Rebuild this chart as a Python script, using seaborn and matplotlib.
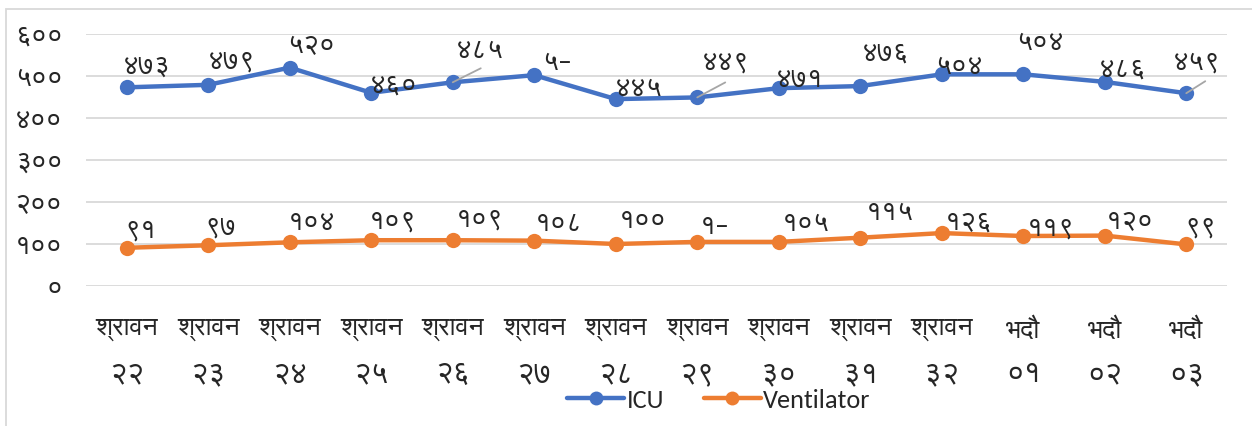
import numpy as np
import pandas as pd
import matplotlib
matplotlib.use("Agg")
import matplotlib.pyplot as plt
import seaborn as sb
from matplotlib.lines import Line2D
from matplotlib.patches import Rectangle

# dates (Nepali calendar) and daily counts
months = ['श्रावन'] * 11 + ['भदौ'] * 3
days = ['२२', '२३', '२४', '२५', '२६', '२७', '२८', '२९', '३०', '३१', '३२', '०१', '०२', '०३']
icu = [473, 479, 520, 460, 485, 502, 445, 449, 471, 476, 504, 504, 486, 459]
ventilator = [91, 97, 104, 109, 109, 108, 100, 105, 105, 115, 126, 119, 120, 99]
icu_labels = ['४७३', '४७९', '५२०', '४६०', '४८५', '५–', '४४५', '४४९', '४७१', '४७६', '५०४', '५०४', '४८६', '४५९']
vent_labels = ['९१', '९७', '१०४', '१०९', '१०९', '१०८', '१००', '१–', '१०५', '११५', '१२६', '११९', '१२०', '९९']
y_ticks = [0, 100, 200, 300, 400, 500, 600]
y_tick_labels = ['०', '१००', '२००', '३००', '४००', '५००', '६००']

BLUE = '#4472C4'
ORANGE = '#ED7D31'

sb.set_style('white')
plt.rcParams['font.family'] = ['Carlito', 'FreeSans', 'Noto Sans Devanagari', 'DejaVu Sans']

n = len(days)
df = pd.DataFrame({
    'pos': list(range(n)) * 2,
    'value': icu + ventilator,
    'series': ['ICU'] * n + ['Ventilator'] * n,
})

fig = plt.figure(figsize=(12.52, 4.26), dpi=100)
ax = fig.add_axes([86 / 1252, 1 - 286 / 426, (1227 - 86) / 1252, (286 - 34) / 426])

sb.lineplot(data=df, x='pos', y='value', hue='series', palette=[BLUE, ORANGE],
            marker='o', markersize=11, markeredgewidth=0, linewidth=3.2,
            legend=False, ax=ax)

ax.set_xlim(-0.5, n - 0.5)
ax.set_ylim(0, 600)
ax.set_yticks(y_ticks)
ax.set_yticklabels(y_tick_labels, fontsize=20)
ax.set_xticks(range(n))
ax.set_xticklabels(months, fontsize=19)
ax.tick_params(axis='both', length=0)
ax.tick_params(axis='y', pad=17)
ax.tick_params(axis='x', pad=23)
ax.set_xlabel('')
ax.set_ylabel('')
ax.yaxis.grid(True, color='#D9D9D9', linewidth=1.3)
ax.set_axisbelow(True)
for s in ax.spines.values():
    s.set_visible(False)

# second row of the category axis: day numbers
sec = ax.secondary_xaxis('bottom')
sec.set_xticks(range(n), labels=days, fontsize=22)
sec.tick_params(length=0, pad=54)
sec.spines['bottom'].set_visible(False)

# data labels (pixel offsets from each point, as placed in the original)
icu_off = [(20, 21), (23, 24), (21, 22), (22, 8), (27, 32), (23, 13), (23, 11),
           (28, 35), (21, 9), (25, 33), (17, 8), (17, 32), (18, 13), (11, 31)]
vent_off = [(14, 18), (12, 18), (22, 20), (21, 19), (27, 21), (24, 17), (27, 23),
            (17, 15), (27, 18), (30, 25), (27, 11), (28, 8), (25, 14), (14, 17)]
leaders = {4: (28, 14), 7: (28, 15), 13: (19, 12)}

for i in range(n):
    if i in leaders:
        ax.annotate('', xy=(i, icu[i]), xytext=leaders[i], textcoords='offset pixels',
                    arrowprops=dict(arrowstyle='-', color='#A6A6A6', lw=1.3, shrinkA=0, shrinkB=0))
    ax.annotate(icu_labels[i], xy=(i, icu[i]), xytext=icu_off[i], textcoords='offset pixels',
                ha='center', va='center', fontsize=20)
    ax.annotate(vent_labels[i], xy=(i, ventilator[i]), xytext=vent_off[i], textcoords='offset pixels',
                ha='center', va='center', fontsize=20)

handles = [Line2D([], [], color=BLUE, lw=3.2, marker='o', markersize=10, markeredgewidth=0),
           Line2D([], [], color=ORANGE, lw=3.2, marker='o', markersize=10, markeredgewidth=0)]
fig.legend(handles, ['ICU', 'Ventilator'], loc='center', bbox_to_anchor=(719 / 1252, 1 - 400 / 426),
           ncol=2, frameon=False, fontsize=19, handlelength=2.15, handletextpad=0.1,
           columnspacing=1.5, borderpad=0, borderaxespad=0)

fig.patches.append(Rectangle((6 / 1252, -0.05), 1.2, 1 - 9 / 426 + 0.05, transform=fig.transFigure,
                             fill=False, edgecolor='#D9D9D9', linewidth=1.3))

fig.savefig('out.png', dpi=100)
